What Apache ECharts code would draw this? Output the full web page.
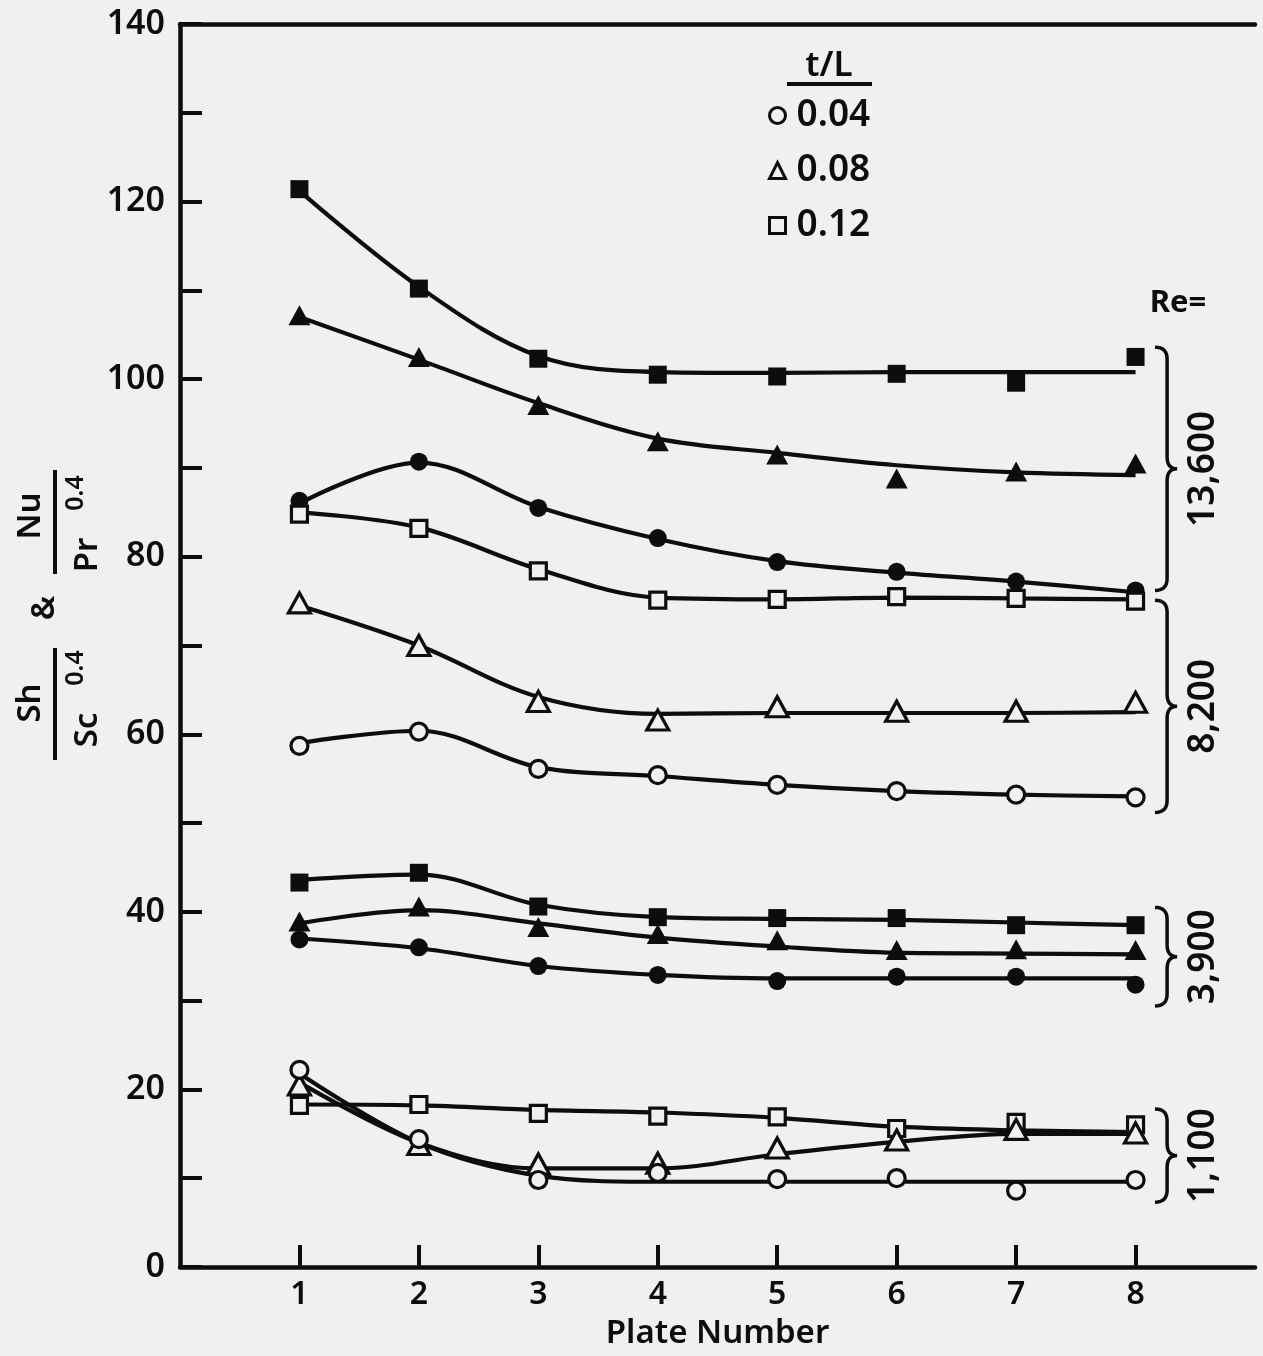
<!DOCTYPE html>
<html><head><meta charset="utf-8">
<script src="https://cdn.jsdelivr.net/npm/echarts@6/dist/echarts.min.js"></script>
<style>html,body{margin:0;padding:0;background:#f0f0ee;}#chart{width:1263px;height:1356px;}</style>
</head><body><div id="chart"></div>
<script>
// ---------- data ----------
const plates = [1, 2, 3, 4, 5, 6, 7, 8];
const xTickLabels = [1, 2, 3, 4, 5, 6, 7, 8];
const yTickLabels = [0, 20, 40, 60, 80, 100, 120, 140];
const tlValues = ['0.04', '0.08', '0.12'];
const reLabels = ['13,600', '8,200', '3,900', '1,100'];

// Re = 13,600 (filled markers)
const sq13600  = [121.4, 110.2, 102.3, 100.5, 100.3, 100.6, 99.6, 102.5];
const sq13600Fit  = [121.2, 110.4, 102.6, 100.8, 100.7, 100.8, 100.8, 100.8];
const tri13600 = [107.2, 102.5, 97.1, 93.0, 91.5, 88.8, 89.6, 90.5];
const tri13600Fit = [107.0, 102.2, 97.3, 93.3, 91.7, 90.3, 89.5, 89.2];
const cir13600 = [86.3, 90.7, 85.5, 82.1, 79.4, 78.3, 77.2, 76.2];
const cir13600Fit = [86.0, 90.6, 85.6, 82.0, 79.5, 78.2, 77.2, 76.0];
// Re = 8,200 (open markers)
const sq8200  = [84.8, 83.2, 78.4, 75.1, 75.2, 75.5, 75.3, 75.0];
const sq8200Fit  = [85.0, 83.3, 78.6, 75.4, 75.2, 75.4, 75.3, 75.2];
const tri8200 = [74.8, 70.0, 63.7, 61.6, 63.1, 62.6, 62.6, 63.6];
const tri8200Fit = [74.5, 70.0, 64.2, 62.3, 62.4, 62.4, 62.4, 62.5];
const cir8200 = [58.7, 60.3, 56.1, 55.4, 54.3, 53.6, 53.2, 52.9];
const cir8200Fit = [59.0, 60.4, 56.3, 55.3, 54.3, 53.6, 53.2, 53.0];
// Re = 3,900 (filled markers)
const sq3900  = [43.3, 44.4, 40.6, 39.4, 39.3, 39.3, 38.5, 38.5];
const sq3900Fit  = [43.6, 44.2, 40.8, 39.4, 39.2, 39.1, 38.8, 38.5];
const tri3900 = [38.9, 40.6, 38.3, 37.5, 36.8, 35.7, 35.8, 35.7];
const tri3900Fit = [38.7, 40.2, 38.7, 37.1, 36.1, 35.4, 35.3, 35.2];
const cir3900 = [36.9, 36.0, 33.9, 32.9, 32.2, 32.7, 32.7, 31.8];
const cir3900Fit = [37.0, 35.9, 33.9, 32.9, 32.5, 32.5, 32.5, 32.5];
// Re = 1,100 (open markers)
const sq1100  = [18.2, 18.3, 17.3, 17.0, 16.9, 15.6, 16.3, 16.0];
const sq1100Fit  = [18.3, 18.2, 17.7, 17.4, 16.8, 15.8, 15.4, 15.2];
const tri1100 = [20.5, 13.8, 11.6, 11.7, 13.4, 14.3, 15.5, 15.1];
const tri1100Fit = [20.8, 14.0, 11.1, 11.1, 12.7, 14.1, 15.0, 15.0];
const cir1100 = [22.2, 14.4, 9.8, 10.6, 9.9, 10.0, 8.6, 9.8];
const cir1100Fit = [21.8, 14.0, 10.3, 9.6, 9.6, 9.6, 9.6, 9.6];

// Re group extents on the y axis (for the braces)
const reTop    = [103.6, 75.1, 40.5, 17.8];
const reBottom = [76.2, 51.2, 29.4, 7.3];

// ---------- styling ----------
const INK = '#0d0d0d';
const BG = '#f0f0ee';
const FONT = '"Noto Sans", "DejaVu Sans", sans-serif';
const FW = 600;

function pts(vals) { return plates.map((p, i) => [p, vals[i]]); }
function fit(name, vals) {
  return { type: 'line', name: name, data: pts(vals), smooth: 0.35, symbol: 'none', showSymbol: false,
    lineStyle: { color: INK, width: 4.2, opacity: 1 }, z: 2, silent: true };
}
function marks(name, vals, symbol, filled) {
  const size = symbol === 'triangle' ? [22, 20] : (symbol === 'rect' ? (filled ? 18 : 16) : (filled ? 18 : 17));
  return { type: 'scatter', name: name, data: pts(vals), symbol: symbol, symbolSize: size,
    itemStyle: filled ? { color: INK, opacity: 1 } : { color: BG, borderColor: INK, borderWidth: 3.2, opacity: 1 }, z: 4 };
}

const series = [
  fit('fit sq 13600', sq13600Fit), fit('fit tri 13600', tri13600Fit), fit('fit cir 13600', cir13600Fit),
  fit('fit sq 8200', sq8200Fit), fit('fit tri 8200', tri8200Fit), fit('fit cir 8200', cir8200Fit),
  fit('fit sq 3900', sq3900Fit), fit('fit tri 3900', tri3900Fit), fit('fit cir 3900', cir3900Fit),
  fit('fit sq 1100', sq1100Fit), fit('fit tri 1100', tri1100Fit), fit('fit cir 1100', cir1100Fit),
  marks('Re 13,600, t/L 0.12', sq13600, 'rect', true),
  marks('Re 13,600, t/L 0.08', tri13600, 'triangle', true),
  marks('Re 13,600, t/L 0.04', cir13600, 'circle', true),
  marks(tlValues[2], sq8200, 'rect', false),
  marks(tlValues[1], tri8200, 'triangle', false),
  marks(tlValues[0], cir8200, 'circle', false),
  marks('Re 3,900, t/L 0.12', sq3900, 'rect', true),
  marks('Re 3,900, t/L 0.08', tri3900, 'triangle', true),
  marks('Re 3,900, t/L 0.04', cir3900, 'circle', true),
  marks('Re 1,100, t/L 0.12', sq1100, 'rect', false),
  marks('Re 1,100, t/L 0.08', tri1100, 'triangle', false),
  marks('Re 1,100, t/L 0.04', cir1100, 'circle', false)
];

const axisLineStyle = { color: INK, width: 4.5 };
const option = {
  backgroundColor: BG,
  animation: false,
  textStyle: { fontFamily: FONT },
  grid: { left: 180, right: 8, top: 24, bottom: 89, containLabel: false },
  xAxis: [{
    type: 'value', min: 0, max: 9, interval: 1, position: 'bottom',
    axisLine: { show: true, onZero: false, lineStyle: axisLineStyle },
    axisTick: { show: true, inside: true, length: 22, lineStyle: { color: INK, width: 4 }, customValues: plates },
    axisLabel: { customValues: xTickLabels, margin: 12, fontSize: 32, fontWeight: FW, color: INK, fontFamily: FONT },
    splitLine: { show: false },
    name: 'Plate Number', nameLocation: 'middle', nameGap: 50,
    nameTextStyle: { fontSize: 33, fontWeight: FW, color: INK, fontFamily: FONT }
  }, {
    type: 'value', min: 0, max: 9, position: 'top',
    axisLine: { show: true, onZero: false, lineStyle: axisLineStyle },
    axisTick: { show: false }, axisLabel: { show: false }, splitLine: { show: false }
  }],
  yAxis: {
    type: 'value', min: 0, max: 140, interval: 10,
    axisLine: { show: true, onZero: false, lineStyle: axisLineStyle },
    axisTick: { show: true, inside: true, length: 22, lineStyle: { color: INK, width: 4 } },
    axisLabel: { customValues: yTickLabels, margin: 15, fontSize: 34, fontWeight: FW, color: INK, fontFamily: FONT },
    splitLine: { show: false }
  },
  legend: {
    orient: 'vertical', left: 763, top: 92, itemWidth: 16, itemHeight: 16, itemGap: 18,
    data: tlValues.map(v => ({ name: v })),
    textStyle: { fontSize: 37, fontWeight: FW, color: INK, fontFamily: FONT, lineHeight: 36, padding: [0, 0, 0, 6] },
    itemStyle: { borderWidth: 3, opacity: 1 },
    selectedMode: false
  },
  series: series
};

const chart = echarts.init(document.getElementById('chart'));
chart.setOption(option);

// ---------- annotations (positions taken from the axes) ----------
function px(x, y) { return chart.convertToPixel({ seriesIndex: 0 }, [x, y]); }
function quad(p0, p1, p2, n) {
  const out = [];
  for (let i = 0; i <= n; i++) {
    const t = i / n, a = (1 - t) * (1 - t), b = 2 * (1 - t) * t, c = t * t;
    out.push([a * p0[0] + b * p1[0] + c * p2[0], a * p0[1] + b * p1[1] + c * p2[1]]);
  }
  return out;
}
function bracePoints(x0, y1, y2, w) {
  const xm = x0 + w * 0.55, xt = x0 + w, ym = (y1 + y2) / 2, r = Math.min(12, (y2 - y1) / 6);
  let p = [];
  p = p.concat(quad([x0, y1], [xm, y1], [xm, y1 + r], 8));
  p.push([xm, ym - r]);
  p = p.concat(quad([xm, ym - r], [xm, ym], [xt, ym], 8));
  p = p.concat(quad([xt, ym], [xm, ym], [xm, ym + r], 8));
  p.push([xm, y2 - r]);
  p = p.concat(quad([xm, y2 - r], [xm, y2], [x0, y2], 8));
  return p;
}

const g = [];
const font = (s, w) => (w || FW) + ' ' + s + 'px ' + FONT;
// legend title t/L
g.push({ type: 'text', x: 829, y: 66, style: { text: 't/L', fill: INK, font: font(35), align: 'center', verticalAlign: 'middle' } });
g.push({ type: 'line', shape: { x1: 787, y1: 84, x2: 872, y2: 84 }, style: { stroke: INK, lineWidth: 4 } });
// Re= label
g.push({ type: 'text', x: 1178, y: 303, style: { text: 'Re=', fill: INK, font: font(31, 'bold'), align: 'center', verticalAlign: 'middle' } });
// braces and Re values
reLabels.forEach((lab, i) => {
  const yTop = px(8, reTop[i])[1], yBot = px(8, reBottom[i])[1];
  g.push({ type: 'polyline', shape: { points: bracePoints(1155, yTop, yBot, 22) }, style: { stroke: INK, lineWidth: 3.5, fill: null } });
  g.push({ type: 'text', x: 1203, y: (yTop + yBot) / 2, rotation: Math.PI / 2,
    style: { text: lab, fill: INK, font: font(37), align: 'center', verticalAlign: 'middle' } });
});
// y axis title: Sh / Sc^0.4  &  Nu / Pr^0.4 (rotated)
const R = Math.PI / 2;
function rt(t, x, y, size) {
  g.push({ type: 'text', x: x, y: y, rotation: R, style: { text: t, fill: INK, font: font(size), align: 'center', verticalAlign: 'middle' } });
}
rt('Sh', 31, 703, 33);
g.push({ type: 'line', shape: { x1: 55, y1: 648, x2: 55, y2: 760 }, style: { stroke: INK, lineWidth: 4 } });
rt('Sc', 88, 730, 33);
rt('0.4', 76, 668, 25);
rt('&', 45, 608, 33);
rt('Nu', 31, 516, 33);
g.push({ type: 'line', shape: { x1: 55, y1: 470, x2: 55, y2: 574 }, style: { stroke: INK, lineWidth: 4 } });
rt('Pr', 88, 555, 33);
rt('0.4', 76, 493, 25);

chart.setOption({ graphic: { elements: g } });
</script></body></html>
